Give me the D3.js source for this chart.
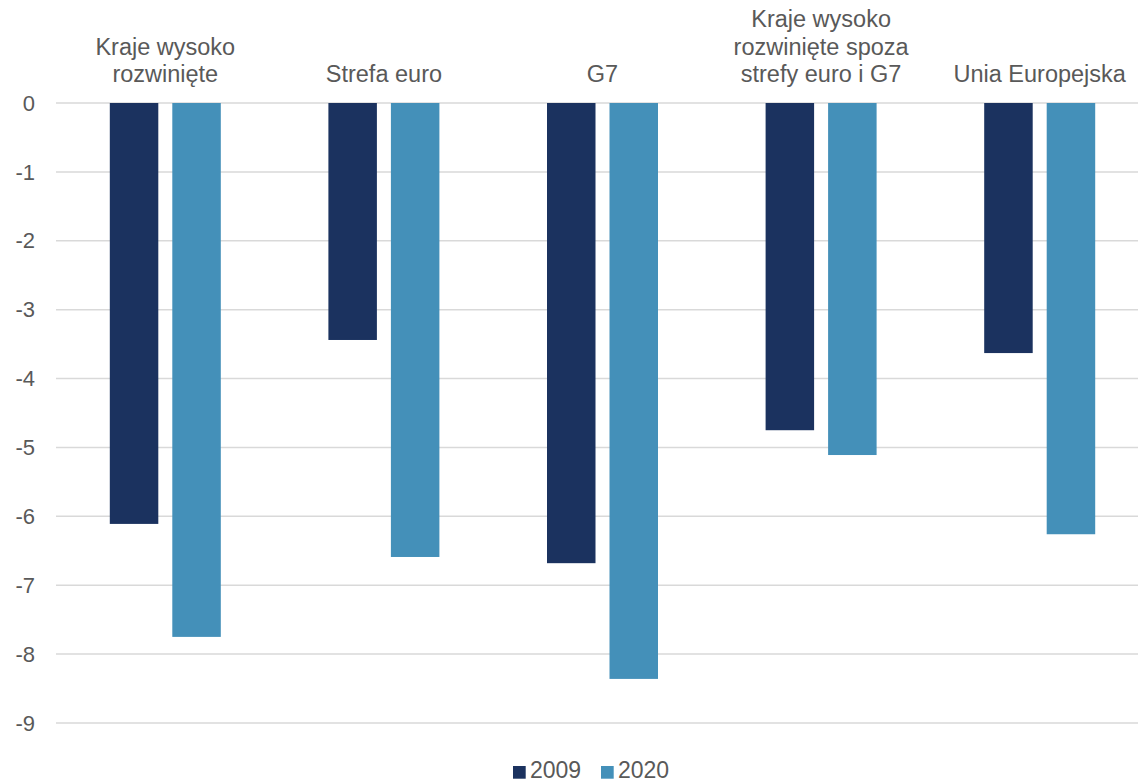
<!DOCTYPE html>
<html>
<head>
<meta charset="utf-8">
<script src="https://cdn.jsdelivr.net/npm/d3@7"></script>
<style>
  body { margin: 0; background: #fff; }
  text { font-family: "Liberation Sans", Arial, sans-serif; fill: #595959; }
</style>
</head>
<body>
<div id="chart"></div>
<script>
const categories = [
	["Kraje wysoko", "rozwinięte"],
	["Strefa euro"],
	["G7"],
	["Kraje wysoko", "rozwinięte spoza", "strefy euro i G7"],
	["Unia Europejska"]
];
const series = ["2009", "2020"];
const values2009 = [-6.11, -3.44, -6.68, -4.75, -3.63];
const values2020 = [-7.75, -6.59, -8.36, -5.11, -6.26];
const yTicks = [0, -1, -2, -3, -4, -5, -6, -7, -8, -9];
const colors = ["#1b325f", "#4490b9"];

const width = 1138;
const height = 783;

var svg = d3.select("#chart")
	.append("svg")
	.attr("width", width)
	.attr("height", height);

var keys = categories.map((c, i) => "c" + i);

var x = d3.scaleBand()
	.domain(keys)
	.range([56, 1149]);

var xInner = d3.scaleBand()
	.domain(series)
	.range([53.8, x.bandwidth() - 53.8])
	.paddingInner(0.224);

var y = d3.scaleLinear()
	.domain([-9, 0])
	.range([723, 103]);

// gridlines
svg.append("g")
	.selectAll("line")
	.data(yTicks)
	.enter()
	.append("line")
	.attr("x1", 56)
	.attr("x2", width)
	.attr("y1", (d) => y(d))
	.attr("y2", (d) => y(d))
	.attr("stroke", "#d9d9d9")
	.attr("stroke-width", 1.5);

// y labels
svg.append("g")
	.selectAll("text")
	.data(yTicks)
	.enter()
	.append("text")
	.attr("x", 35)
	.attr("y", (d) => y(d))
	.attr("dy", "0.35em")
	.attr("text-anchor", "end")
	.attr("font-size", 22)
	.text((d) => d === 0 ? "0" : "-" + Math.abs(d));

// bars
var data = keys.map((k, i) => ({ key: k, vals: [values2009[i], values2020[i]] }));

var groups = svg.append("g")
	.selectAll("g")
	.data(data)
	.enter()
	.append("g")
	.attr("transform", (d) => `translate(${x(d.key)},0)`);

groups.selectAll("rect")
	.data((d) => d.vals.map((v, j) => ({ s: series[j], v: v, j: j })))
	.enter()
	.append("rect")
	.attr("x", (d) => xInner(d.s))
	.attr("width", xInner.bandwidth())
	.attr("y", y(0))
	.attr("height", (d) => y(d.v) - y(0))
	.attr("fill", (d) => colors[d.j]);

// category labels (top)
var lineH = 27.3;
var labels = svg.append("g")
	.selectAll("text")
	.data(categories)
	.enter()
	.append("text")
	.attr("text-anchor", "middle")
	.attr("font-size", 23.5)
	.attr("x", (d, i) => x(keys[i]) + x.bandwidth() / 2);

labels.selectAll("tspan")
	.data((d) => d)
	.enter()
	.append("tspan")
	.attr("x", function () { return d3.select(this.parentNode).attr("x"); })
	.attr("y", (d, i, nodes) => 82 - (nodes.length - 1 - i) * lineH)
	.text((d) => d);

// legend
var legendX = [513, 601];
var legend = svg.append("g")
	.selectAll("g")
	.data(series)
	.enter()
	.append("g")
	.attr("transform", (d, i) => `translate(${legendX[i]},0)`);

legend.append("rect")
	.attr("x", 0)
	.attr("y", 766)
	.attr("width", 12.7)
	.attr("height", 12.7)
	.attr("fill", (d, i) => colors[i]);

legend.append("text")
	.attr("x", 17)
	.attr("y", 778)
	.attr("font-size", 23)
	.text((d) => d);
</script>
</body>
</html>
